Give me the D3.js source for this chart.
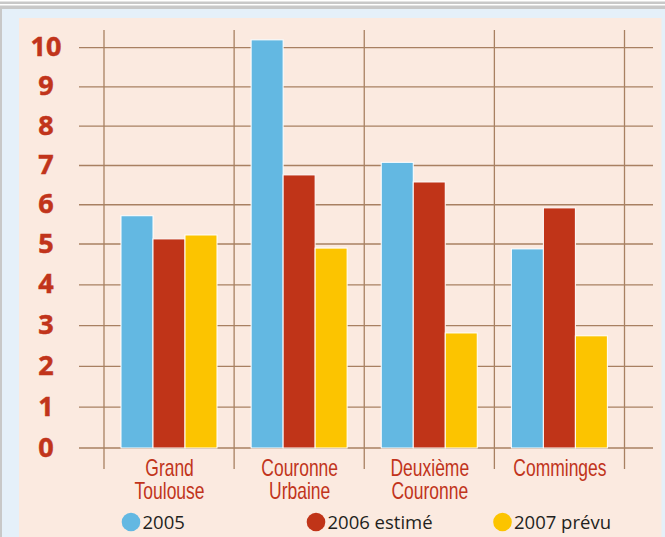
<!DOCTYPE html>
<html><head><meta charset="utf-8">
<script src="https://cdn.jsdelivr.net/npm/d3@7"></script>
<style>html,body{margin:0;padding:0;background:#fff;}svg{display:block;}</style>
</head><body>
<script>
const categories = [["Grand","Toulouse"],["Couronne","Urbaine"],["Deuxième","Couronne"],["Comminges"]];
const seriesNames = ["2005","2006 estimé","2007 prévu"];
const v2005 = [5.72, 10.2, 7.08, 4.88];
const v2006 = [5.13, 6.76, 6.58, 5.92];
const v2007 = [5.23, 4.9, 2.82, 2.75];
const yTicks = [0,1,2,3,4,5,6,7,8,9,10];
const colors = ["#63b8e2","#c03418","#fcc400"];

const W = 665, H = 537;
const svg = d3.select("body").append("svg").attr("width", W).attr("height", H);

// frame
svg.append("rect").attr("x",0).attr("y",0).attr("width",W).attr("height",H).attr("fill","#fff");
svg.append("rect").attr("x",0).attr("y",1.5).attr("width",W).attr("height",2.5).attr("fill","#c8c8c8");
svg.append("rect").attr("x",0).attr("y",5.5).attr("width",W).attr("height",2.5).attr("fill","#c8c8c8");
svg.append("rect").attr("x",0).attr("y",8).attr("width",W).attr("height",H-8).attr("fill","#c8c8c8");
svg.append("rect").attr("x",2).attr("y",9).attr("width",W-2).attr("height",H-9).attr("fill","#e5f0f9");
svg.append("rect").attr("x",19).attr("y",18).attr("width",642.5).attr("height",H-18).attr("fill","#fbeae0");

const keys = categories.map(c => c.join(" "));
const x = d3.scaleBand().domain(keys).range([104, 624.5]).paddingInner(0).paddingOuter(0);
const xs = d3.scaleBand().domain(seriesNames).range([17, 113]).paddingInner(0);
const y = d3.scaleLinear().domain([0,5,10]).range([448, 244, 47.7]);

const gridColor = "#a88062";
// horizontal grid
svg.append("g").selectAll("line").data(yTicks).join("line")
  .attr("x1",79).attr("x2",653)
  .attr("y1",d=>y(d)).attr("y2",d=>y(d))
  .attr("stroke",gridColor).attr("stroke-width",1.3);
// vertical grid
const edges = keys.map(k => x(k)).concat([x(keys[keys.length-1]) + x.bandwidth()]);
svg.append("g").selectAll("line").data(edges).join("line")
  .attr("x1",d=>d).attr("x2",d=>d)
  .attr("y1",30).attr("y2",469)
  .attr("stroke",gridColor).attr("stroke-width",1.3);

// y labels
svg.append("g").selectAll("text").data(yTicks).join("text")
  .attr("x",46).attr("y",d=>y(d)+8.5)
  .attr("text-anchor","middle")
  .attr("font-family","'Open Sans', sans-serif").attr("font-weight","bold")
  .attr("font-size",27).attr("fill","#c1341b")
  .attr("stroke","#c1341b").attr("stroke-width",0.5)
  .text(d=>d);

// bars
const seriesVals = [v2005, v2006, v2007];
const barData = [];
keys.forEach((k,i) => seriesVals.forEach((vals,j) => barData.push({k, s: seriesNames[j], v: vals[i], c: colors[j]})));
svg.append("g").selectAll("rect").data(barData).join("rect")
  .attr("x", d => x(d.k) + xs(d.s))
  .attr("width", xs.bandwidth())
  .attr("y", d => y(d.v))
  .attr("height", d => y(0) - y(d.v))
  .attr("fill", d => d.c)
  .attr("stroke","#ffffff").attr("stroke-width",1);

// x labels (condensed look via horizontal scale)
const xl = svg.append("g").selectAll("text").data(categories).join("text")
  .attr("text-anchor","middle")
  .attr("font-family","'Liberation Sans', Arial, sans-serif")
  .attr("font-size",23).attr("fill","#c1341b")
  .attr("transform", (d,i) => `translate(${x(keys[i]) + x.bandwidth()/2 + 0.5},475.5) scale(0.76,1)`);
xl.selectAll("tspan").data(d=>d).join("tspan")
  .attr("x",0).attr("y",(d,i)=>i*23.5).text(d=>d);

// legend
const legendX = [131, 316, 502.5];
const lg = svg.append("g").selectAll("g").data(seriesNames).join("g")
  .attr("transform",(d,i)=>`translate(${legendX[i]},522)`);
lg.append("circle").attr("r",9.3).attr("fill",(d,i)=>colors[i]);
lg.append("text").attr("x",11.5).attr("y",7.3)
  .attr("font-family","'Open Sans', sans-serif").attr("font-size",18.5)
  .attr("fill","#231f20").text(d=>d);
</script>
</body></html>
